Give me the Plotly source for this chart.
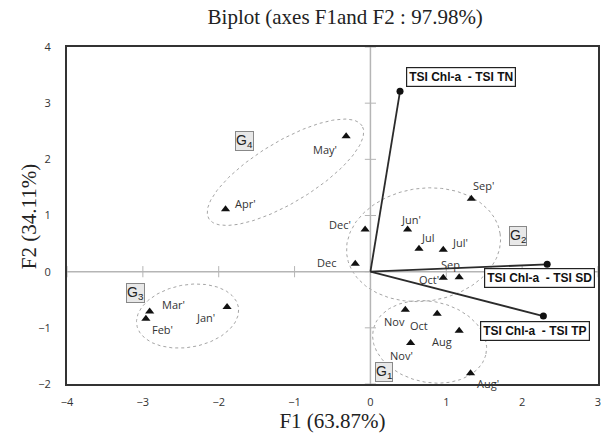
import numpy as np
import plotly.graph_objects as go

# ---------------- data ----------------
obs_labels = ["May'", "Apr'", "Dec'", "Dec", "Jun'", "Jul", "Jul'", "Sep'", "Sep", "Oct'",
              "Nov", "Oct", "Aug", "Nov'", "Aug'", "Mar'", "Feb'", "Jan'"]
obs_f1 = [-0.32, -1.91, -0.07, -0.20, 0.49, 0.64, 0.96, 1.33, 1.17, 0.96,
          0.46, 0.88, 1.17, 0.53, 1.32, -2.91, -2.96, -1.89]
obs_f2 = [2.41, 1.11, 0.75, 0.14, 0.75, 0.41, 0.39, 1.30, -0.10, -0.11,
          -0.68, -0.75, -1.05, -1.27, -1.81, -0.71, -0.84, -0.63]

var_labels = ["TSI Chl-a\u00a0\u00a0- TSI TN", "TSI Chl-a\u00a0\u00a0- TSI SD", "TSI Chl-a\u00a0\u00a0- TSI TP"]
var_f1 = [0.39, 2.33, 2.28]
var_f2 = [3.21, 0.13, -0.79]

group_names = ["G<sub>4</sub>", "G<sub>2</sub>", "G<sub>1</sub>", "G<sub>3</sub>"]
group_label_f1 = [-1.66, 1.94, 0.18, -3.10]
group_label_f2 = [2.32, 0.63, -1.79, -0.38]
# ellipse: centre, semi-axes (in F1 units), rotation (deg, screen)
ell_cf1 = [-1.12, 0.70, 0.78, -2.41]
ell_cf2 = [1.77, 0.48, -1.25, -0.79]
ell_a = [1.18, 1.02, 0.76, 0.68]
ell_b = [0.40, 0.74, 0.53, 0.41]
ell_rot = [31, 8, -12, 10]

x_ticks = [-4, -3, -2, -1, 0, 1, 2, 3]
y_ticks = [-2, -1, 0, 1, 2, 3, 4]

# ---------------- style ----------------
label_shift = {"May'": (-21, -13), "Apr'": (20, 6), "Dec'": (-25, 5), "Dec": (-29, 1),
               "Jun'": (3, 10), "Jul": (9, 11), "Jul'": (17, 7), "Sep'": (12, 13),
               "Sep": (-9, 13), "Oct'": (-14, -2), "Nov": (-11, -12), "Oct": (-18, -12),
               "Aug": (-17, -11), "Nov'": (-9, -12), "Aug'": (17, -10), "Mar'": (24, 7),
               "Feb'": (17, -11), "Jan'": (-22, -10)}
var_shift = [(61, 14), (-8, -14), (-8, -15)]
ASPECT = 76 / 56  # px per F1 unit / px per F2 unit
SERIF = "Liberation Serif, Times New Roman"
SANS = "Open Sans, DejaVu Sans"

fig = go.Figure()

# ellipses
for cx, cy, a, b, r in zip(ell_cf1, ell_cf2, ell_a, ell_b, ell_rot):
    t = np.linspace(0, 2 * np.pi, 200)
    th = np.deg2rad(r)
    u = a * np.cos(t) * np.cos(th) - b * np.sin(t) * np.sin(th)
    v = a * np.cos(t) * np.sin(th) + b * np.sin(t) * np.cos(th)
    fig.add_trace(go.Scatter(x=cx + u, y=cy + v * ASPECT, mode="lines",
                             line=dict(color="#9a9a9a", width=0.9, dash="dot"),
                             hoverinfo="skip", showlegend=False))

# zero axis lines
fig.add_trace(go.Scatter(x=[x_ticks[0], x_ticks[-1]], y=[0, 0], mode="lines",
                         line=dict(color="#b5b5b5", width=1.5), showlegend=False, hoverinfo="skip"))
fig.add_trace(go.Scatter(x=[0, 0], y=[y_ticks[0], y_ticks[-1]], mode="lines",
                         line=dict(color="#b5b5b5", width=1.5), showlegend=False, hoverinfo="skip"))
# tick marks on the zero lines
fig.add_trace(go.Scatter(x=x_ticks, y=[0] * len(x_ticks), mode="markers",
                         marker=dict(symbol="line-ns", size=8, line=dict(color="#b5b5b5", width=1)),
                         showlegend=False, hoverinfo="skip"))
fig.add_trace(go.Scatter(x=[0] * len(y_ticks), y=y_ticks, mode="markers",
                         marker=dict(symbol="line-ew", size=8, line=dict(color="#b5b5b5", width=1)),
                         showlegend=False, hoverinfo="skip"))

# variable vectors
for vx, vy in zip(var_f1, var_f2):
    fig.add_trace(go.Scatter(x=[0, vx], y=[0, vy], mode="lines",
                             line=dict(color="#2b2b2b", width=1.8), showlegend=False, hoverinfo="skip"))
fig.add_trace(go.Scatter(x=var_f1, y=var_f2, mode="markers",
                         marker=dict(symbol="circle", size=7, color="#111"), showlegend=False))

# observations
fig.add_trace(go.Scatter(x=obs_f1, y=obs_f2, mode="markers",
                         marker=dict(symbol="triangle-up", size=8, color="#111"),
                         showlegend=False))

for lab, x, y in zip(obs_labels, obs_f1, obs_f2):
    dx, dy = label_shift[lab]
    fig.add_annotation(x=x, y=y, text=lab, showarrow=False, xshift=dx, yshift=dy,
                       font=dict(family=SANS, size=11, color="#333"))

for lab, x, y, (dx, dy) in zip(var_labels, var_f1, var_f2, var_shift):
    fig.add_annotation(x=x, y=y, text="<b>" + lab + "</b>", showarrow=False, xshift=dx, yshift=dy,
                       font=dict(family="Liberation Sans, Arial", size=12, color="#111"),
                       bgcolor="white", bordercolor="#222", borderwidth=1.2, borderpad=2)

for g, x, y in zip(group_names, group_label_f1, group_label_f2):
    fig.add_annotation(x=x, y=y, text=g, showarrow=False,
                       font=dict(family="Liberation Sans, Arial", size=14, color="#222"),
                       bgcolor="#e8e8e8", bordercolor="#888", borderwidth=1, borderpad=0)

# y axis title
fig.add_annotation(xref="paper", yref="paper", x=-0.071, y=0.496, text="F2 (34.11%)",
                   textangle=-90, showarrow=False, xanchor="center", yanchor="middle",
                   font=dict(family=SERIF, size=21, color="#222"))

fig.update_layout(
    width=611, height=435,
    margin=dict(l=67, r=10, t=47, b=51),
    paper_bgcolor="white", plot_bgcolor="white",
    title=dict(text="Biplot (axes F1and F2 : 97.98%)", x=0.565, xanchor="center", y=0.962, yanchor="middle",
               font=dict(family=SERIF, size=21, color="#222")),
    showlegend=False,
)
fig.update_xaxes(range=[x_ticks[0], x_ticks[-1]], tickvals=x_ticks, showgrid=False, zeroline=False,
                 showline=True, mirror=True, linecolor="#333", linewidth=2, ticks="",
                 ticklabelstandoff=7,
                 tickfont=dict(family=SANS, size=11, color="#333"),
                 title=dict(text="F1 (63.87%)", standoff=0,
                            font=dict(family=SERIF, size=21, color="#222")))
fig.update_yaxes(range=[y_ticks[0], y_ticks[-1]], tickvals=y_ticks, showgrid=False, zeroline=False,
                 showline=True, mirror=True, linecolor="#333", linewidth=2, ticks="",
                 ticklabelstandoff=12,
                 tickfont=dict(family=SANS, size=11, color="#333"))

fig.write_html("out.html")
